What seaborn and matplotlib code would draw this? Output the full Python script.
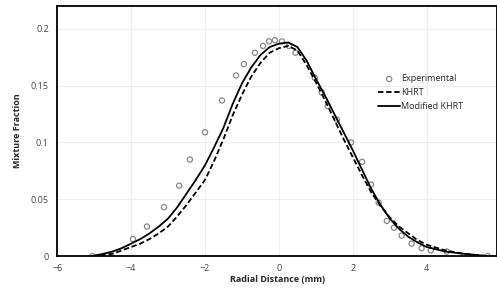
import numpy as np
import pandas as pd
import matplotlib
matplotlib.use("Agg")
import matplotlib.pyplot as plt
import seaborn as sns

# experimental points
exp_x = [-5.05, -3.95, -3.57, -3.11, -2.70, -2.41, -2.0, -1.54, -1.16, -0.95, -0.65, -0.43,
         -0.27, -0.11, 0.08, 0.27, 0.45, 0.97, 1.16, 1.32, 1.57, 1.95, 2.25, 2.49, 2.70,
         2.92, 3.11, 3.32, 3.59, 3.86, 4.11, 4.54, 5.65]
exp_y = [0.0, 0.015, 0.026, 0.043, 0.062, 0.085, 0.109, 0.137, 0.159, 0.169, 0.179, 0.185,
         0.189, 0.190, 0.189, 0.185, 0.179, 0.157, 0.144, 0.132, 0.120, 0.100, 0.083, 0.063, 0.047,
         0.031, 0.025, 0.018, 0.011, 0.007, 0.005, 0.004, 0.0]

# model curves
model_x = [-5.05, -4.75, -4.5, -4.25, -4.0, -3.75, -3.5, -3.25, -3.0, -2.75, -2.5, -2.25, -2.0,
           -1.75, -1.5, -1.25, -1.0, -0.75, -0.5, -0.25, 0.0, 0.25, 0.5, 0.75, 1.0, 1.25, 1.5,
           1.75, 2.0, 2.25, 2.5, 2.75, 3.0, 3.25, 3.5, 3.75, 4.0, 4.5, 5.0, 5.65]
khrt = [0.0, 0.001, 0.002, 0.005, 0.008, 0.011, 0.015, 0.020, 0.026, 0.035, 0.045, 0.056, 0.067,
        0.084, 0.103, 0.124, 0.142, 0.158, 0.170, 0.179, 0.183, 0.185, 0.181, 0.168, 0.153, 0.137,
        0.120, 0.103, 0.087, 0.071, 0.056, 0.044, 0.034, 0.026, 0.020, 0.014, 0.010, 0.005, 0.002, 0.0]
mod_khrt = [0.0, 0.002, 0.004, 0.007, 0.011, 0.015, 0.020, 0.026, 0.033, 0.043, 0.055, 0.067, 0.080,
            0.096, 0.113, 0.134, 0.152, 0.166, 0.177, 0.184, 0.187, 0.188, 0.184, 0.172, 0.156, 0.141,
            0.125, 0.109, 0.093, 0.076, 0.059, 0.045, 0.033, 0.024, 0.017, 0.012, 0.008, 0.004, 0.002, 0.0]

xticks = [-6, -4, -2, 0, 2, 4]
yticks = [0, 0.05, 0.1, 0.15, 0.2]
ytick_labels = ["0", "0.05", "0.1", "0.15", "0.2"]

sns.set_style("whitegrid", {"grid.color": "#eeeeee", "axes.edgecolor": "black"})
plt.rcParams['font.family'] = ['Open Sans', 'DejaVu Sans']

fig = plt.figure(figsize=(4.97, 2.93), dpi=100)
ax = fig.add_axes([0.115, 0.126, 0.885, 0.853])

df_exp = pd.DataFrame({"x": exp_x, "y": exp_y})
sns.scatterplot(data=df_exp, x="x", y="y", ax=ax, marker="o", s=14, facecolors="none",
                edgecolor="#888888", linewidth=0.9, label="Experimental")
sns.lineplot(x=model_x, y=khrt, ax=ax, color="black", lw=1.3, linestyle=(0, (3, 1.5)), label="KHRT")
sns.lineplot(x=model_x, y=mod_khrt, ax=ax, color="black", lw=1.3, label="Modified KHRT")

ax.set_xlim(-6, 5.9)
ax.set_ylim(0, 0.22)
ax.set_xticks(xticks)
ax.set_yticks(yticks)
ax.set_yticklabels(ytick_labels)
ax.tick_params(length=0, labelsize=6.5, labelcolor="#444444", pad=6)
ax.set_xlabel("Radial Distance (mm)", fontsize=6.5, fontweight="bold", labelpad=1)
ax.set_ylabel("Mixture Fraction", fontsize=6.5, fontweight="bold", labelpad=6)
for sp in ax.spines.values():
    sp.set_linewidth(1.3)
    sp.set_color("black")

ax.legend(loc="upper left", bbox_to_anchor=(0.72, 0.745), frameon=False, fontsize=6.5,
          handlelength=2.4, handletextpad=0.1, labelspacing=0.55, borderpad=0)

fig.savefig("out.png", dpi=100)
